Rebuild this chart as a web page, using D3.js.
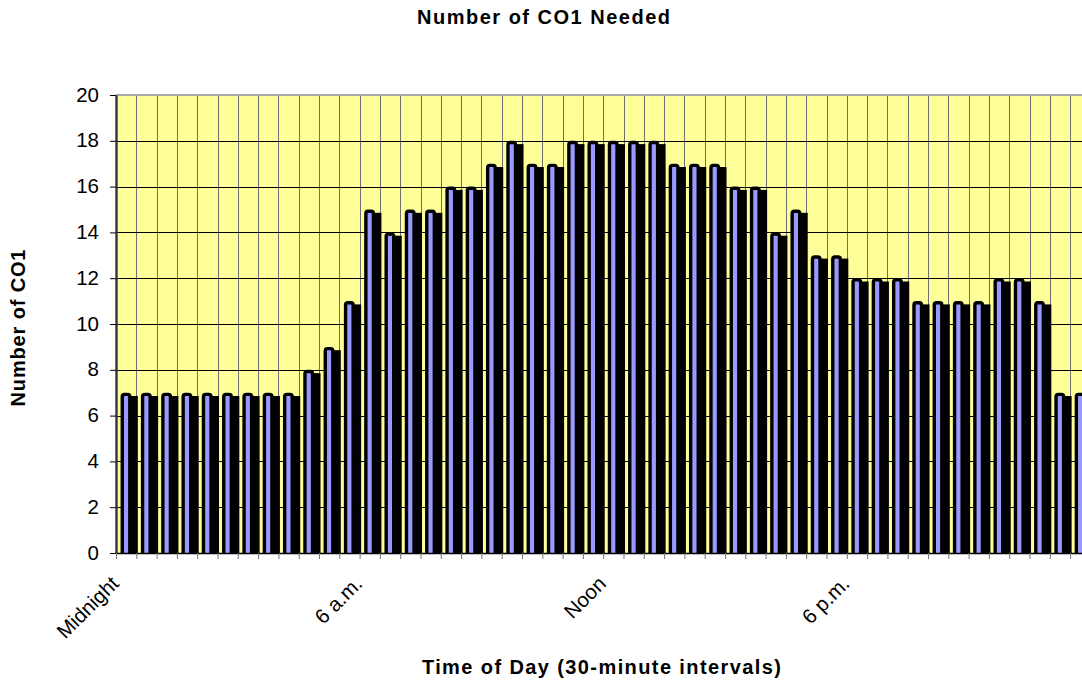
<!DOCTYPE html>
<html>
<head>
<meta charset="utf-8">
<script src="https://cdn.jsdelivr.net/npm/d3@7/dist/d3.min.js"></script>
<style>
  html, body { margin: 0; padding: 0; background: #ffffff; overflow: hidden; }
  svg { display: block; font-family: "Liberation Sans", Arial, sans-serif; }
</style>
</head>
<body>
<svg id="chart" width="1082" height="687"></svg>
<script>
// ---- data ----
const categories = [
  "0:00","0:30","1:00","1:30","2:00","2:30","3:00","3:30",
  "4:00","4:30","5:00","5:30","6:00","6:30","7:00","7:30",
  "8:00","8:30","9:00","9:30","10:00","10:30","11:00","11:30",
  "12:00","12:30","13:00","13:30","14:00","14:30","15:00","15:30",
  "16:00","16:30","17:00","17:30","18:00","18:30","19:00","19:30",
  "20:00","20:30","21:00","21:30","22:00","22:30","23:00","23:30"
];
const co1Needed = [
  7, 7, 7, 7, 7, 7, 7, 7,
  7, 8, 9, 11, 15, 14, 15, 15,
  16, 16, 17, 18, 17, 17, 18, 18,
  18, 18, 18, 17, 17, 17, 16, 16,
  14, 15, 13, 13, 12, 12, 12, 11,
  11, 11, 11, 12, 12, 11, 7, 7
];
const yTicks = [0, 2, 4, 6, 8, 10, 12, 14, 16, 18, 20];
const xTickLabels = ["Midnight", "6 a.m.", "Noon", "6 p.m."];
const xTickLabelAt = ["0:00", "6:00", "12:00", "18:00"];
const chartTitle = "Number of CO1 Needed";
const xTitle = "Time of Day (30-minute intervals)";
const yTitle = "Number of CO1";

// ---- layout ----
const svg = d3.select("#chart");
const plotLeft = 116, plotTop = 95, plotBottom = 553;
const catW = 20.3;
const plotRight = plotLeft + categories.length * catW;

const x = d3.scaleBand().domain(categories).range([plotLeft, plotRight]).paddingInner(0).paddingOuter(0);
const xb = d3.scaleLinear().domain([0, categories.length]).range([plotLeft, plotRight]);
const y = d3.scaleLinear().domain([0, 20]).range([plotBottom, plotTop]);
const bw = x.bandwidth();

// clip
svg.append("defs").append("clipPath").attr("id", "plotClip")
  .append("rect").attr("x", plotLeft).attr("y", plotTop)
  .attr("width", plotRight - plotLeft).attr("height", plotBottom - plotTop);

// plot background
svg.append("rect").attr("x", plotLeft).attr("y", plotTop)
  .attr("width", plotRight - plotLeft).attr("height", plotBottom - plotTop)
  .attr("fill", "#FFFF99");

// vertical gridlines at category boundaries
svg.append("g").selectAll("line").data(d3.range(1, categories.length)).join("line")
  .attr("x1", d => Math.round(xb(d)) + 0.5).attr("x2", d => Math.round(xb(d)) + 0.5)
  .attr("y1", plotTop).attr("y2", plotBottom)
  .attr("stroke", "#6e6e6e").attr("stroke-width", 1);

// horizontal gridlines
svg.append("g").selectAll("line").data(yTicks.filter(t => t > 0 && t < 20)).join("line")
  .attr("x1", plotLeft).attr("x2", plotRight)
  .attr("y1", d => Math.round(y(d)) + 0.5).attr("y2", d => Math.round(y(d)) + 0.5)
  .attr("stroke", "#000").attr("stroke-width", 1);

// top border of plot area
svg.append("line").attr("x1", plotLeft).attr("x2", plotRight)
  .attr("y1", plotTop).attr("y2", plotTop)
  .attr("stroke", "#a8a8a8").attr("stroke-width", 2);

// bars
const barG = svg.append("g").attr("clip-path", "url(#plotClip)");
const data = categories.map((c, i) => ({ c, v: co1Needed[i] }));
const sw = 3.4;
// shadow
barG.selectAll("rect.shadow").data(data).join("rect").attr("class", "shadow")
  .attr("x", d => x(d.c) + bw * 0.36)
  .attr("width", bw * 0.715)
  .attr("y", d => y(d.v) + 3.3)
  .attr("height", d => y(0) - y(d.v))
  .attr("fill", "#000");
// front
barG.selectAll("rect.front").data(data).join("rect").attr("class", "front")
  .attr("x", d => x(d.c) + bw * 0.225 + sw / 2)
  .attr("width", bw * 0.54 - sw)
  .attr("y", d => y(d.v) + sw / 2)
  .attr("height", d => y(0) - y(d.v) + 4)
  .attr("rx", 2.2).attr("ry", 2.2)
  .attr("fill", "#9999FF")
  .attr("stroke", "#000").attr("stroke-width", sw);

// y axis
const yAxis = svg.append("g").attr("transform", `translate(${plotLeft},0)`)
  .call(d3.axisLeft(y).tickValues(yTicks).tickSize(6).tickPadding(11).tickSizeOuter(0));
yAxis.select(".domain").attr("stroke", "#33333d").attr("stroke-width", 2.4);
yAxis.selectAll(".tick line").attr("stroke", "#000");
yAxis.selectAll(".tick text").attr("font-size", 20.5).attr("fill", "#000")
  .attr("font-family", "'Liberation Sans', Arial, sans-serif").attr("dy", "0.3em");

// x axis (ticks at category boundaries)
const labelMap = {};
xTickLabelAt.forEach((c, i) => { labelMap[categories.indexOf(c)] = xTickLabels[i]; });
const xAxis = svg.append("g").attr("transform", `translate(0,${plotBottom})`)
  .call(d3.axisBottom(xb).tickValues(d3.range(0, categories.length + 1)).tickSize(6).tickSizeOuter(0).tickFormat(""));
xAxis.select(".domain").attr("stroke", "#000").attr("stroke-width", 1.6);
xAxis.selectAll(".tick line").attr("stroke", "#777");

svg.append("g").selectAll("text").data(Object.keys(labelMap).map(Number)).join("text")
  .attr("transform", d => `translate(${xb(d) + 4},585) rotate(-45)`)
  .attr("text-anchor", "end")
  .attr("font-size", 20.5).attr("fill", "#000")
  .text(d => labelMap[d]);

// titles
svg.append("text").attr("x", 543.5).attr("y", 24)
  .attr("text-anchor", "middle").attr("font-size", 20).attr("font-weight", "bold")
  .attr("textLength", 253).attr("lengthAdjust", "spacing")
  .text(chartTitle);

svg.append("text").attr("x", 601.4).attr("y", 674)
  .attr("text-anchor", "middle").attr("font-size", 20).attr("font-weight", "bold")
  .attr("textLength", 359).attr("lengthAdjust", "spacing")
  .text(xTitle);

svg.append("text").attr("transform", "translate(25,328) rotate(-90)")
  .attr("text-anchor", "middle").attr("font-size", 20).attr("font-weight", "bold")
  .attr("textLength", 157).attr("lengthAdjust", "spacing")
  .text(yTitle);
</script>
</body>
</html>
